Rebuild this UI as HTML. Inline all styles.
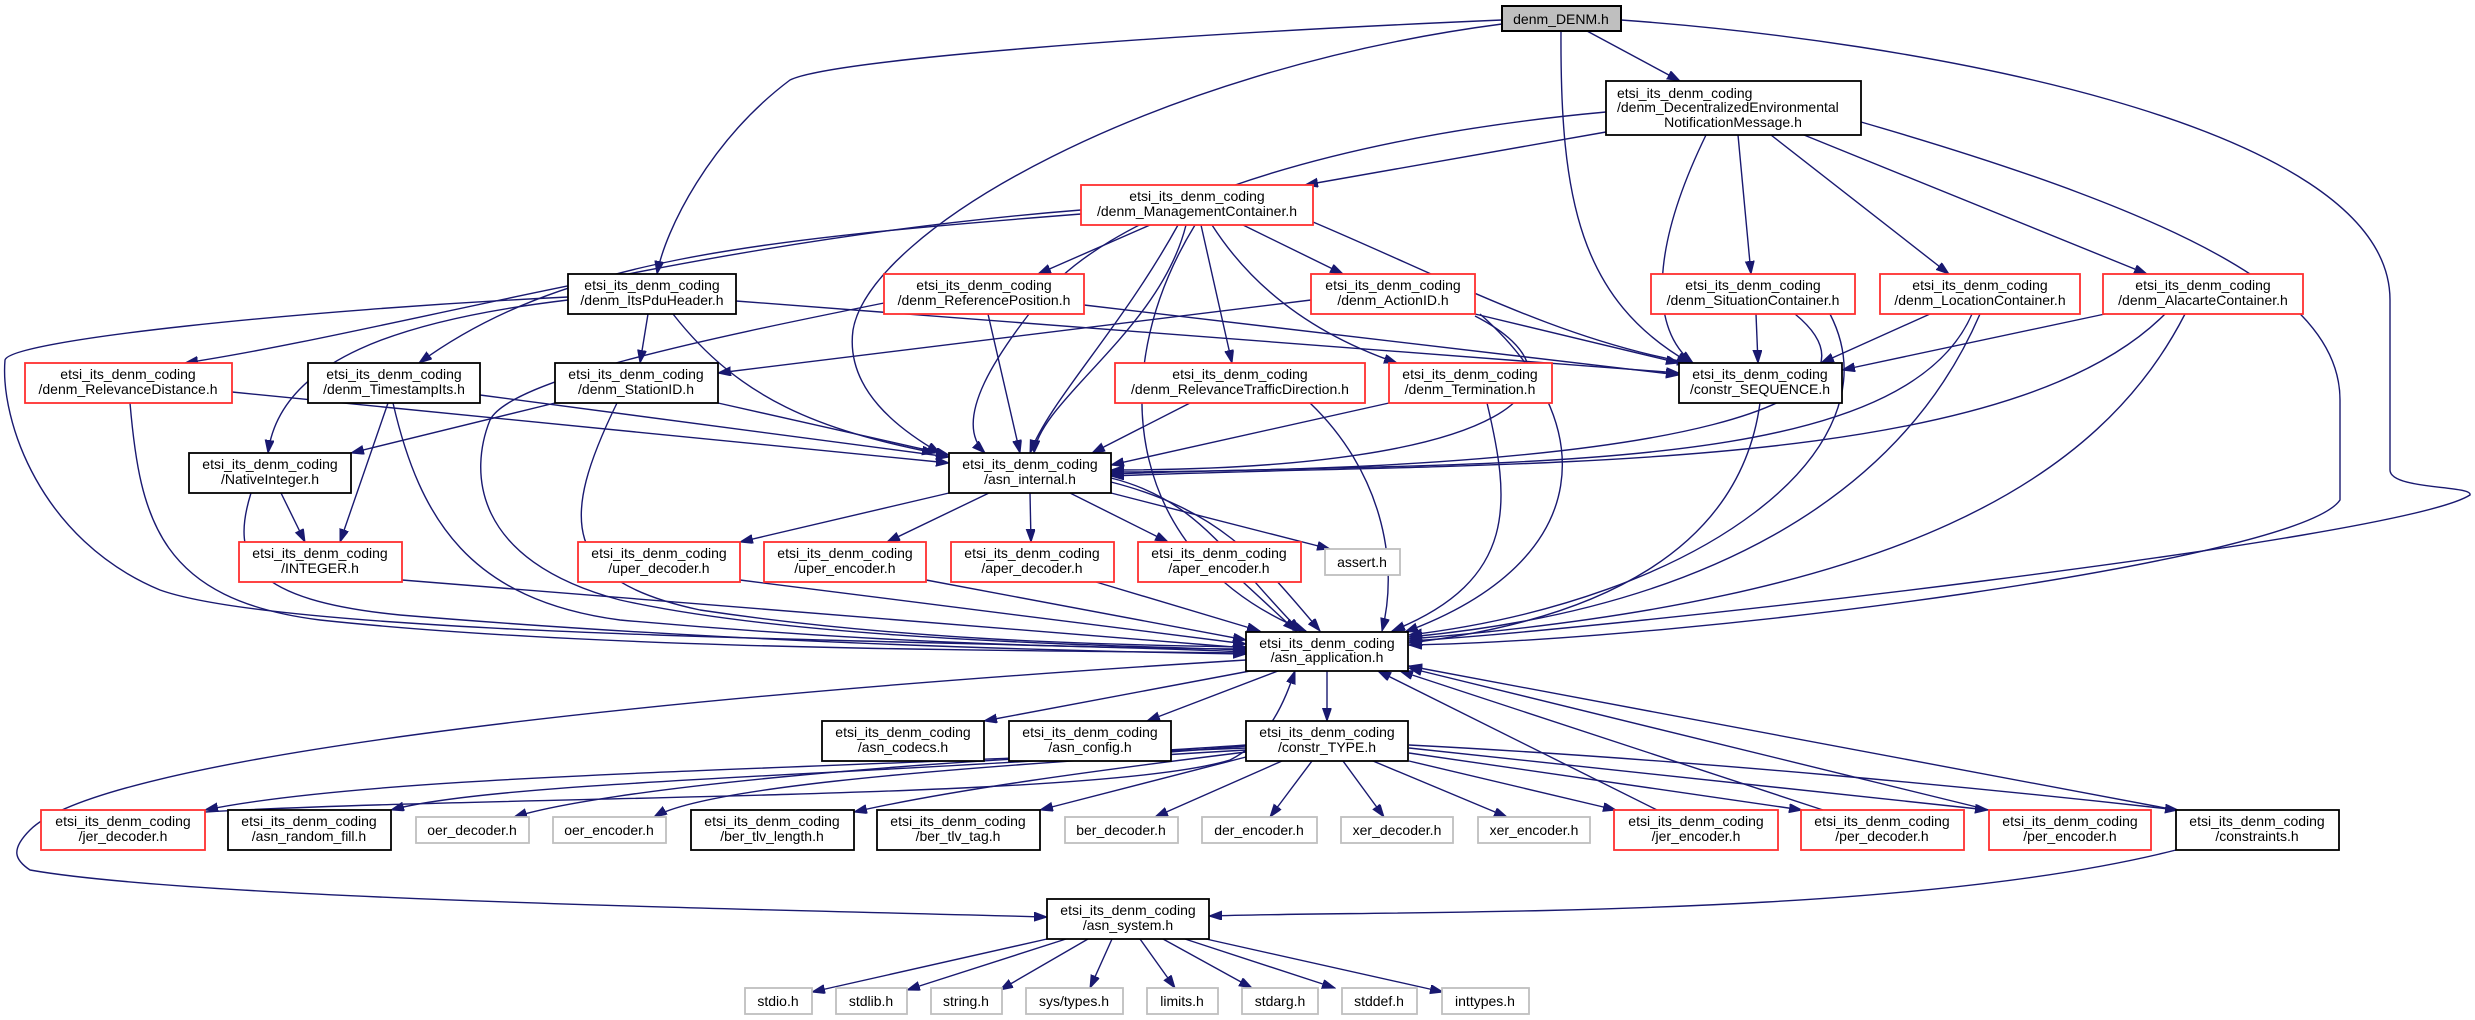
<!DOCTYPE html>
<html><head><meta charset="utf-8"><style>
html,body{margin:0;padding:0;background:#fff}
svg{display:block}
text{font-family:"Liberation Sans","DejaVu Sans",sans-serif;font-size:14px;fill:#000;text-anchor:middle}
.r{fill:#fff;stroke:#ff3030;stroke-width:1.8}
.k{fill:#fff;stroke:#000;stroke-width:1.8}
.g{fill:#fff;stroke:#bfbfbf;stroke-width:1.8}
.e path{fill:none;stroke:#191970;stroke-width:1.4;marker-end:url(#a)}
</style></head><body>
<svg width="2475" height="1020" viewBox="0 0 2475 1020" xmlns="http://www.w3.org/2000/svg">
<defs><marker id="a" markerUnits="userSpaceOnUse" markerWidth="14" markerHeight="10" refX="13" refY="4.5" orient="auto"><path d="M0,0 L13,4.5 L0,9 Z" fill="#191970" stroke="#191970"/></marker></defs>
<g class="e">
<path d="M1587,31 L1680,81"/>
<path d="M1502,20 C1150,35 830,60 790,80 C710,140 665,230 657,274"/>
<path d="M1502,24 C1150,70 870,230 853,330 C845,390 900,430 940,453"/>
<path d="M1561,31 C1560,200 1580,300 1690,363"/>
<path d="M1621,20 C1900,40 2390,120 2390,300 L2390,470 C2390,490 2473,485 2470,495 C2400,540 1600,630 1409,641"/>
<path d="M1606,132 L1305,185"/>
<path d="M1606,112 C1300,140 1100,220 1040,300 C1000,350 950,420 985,453"/>
<path d="M1706,135 C1650,250 1650,330 1693,363"/>
<path d="M1738,135 L1751,274"/>
<path d="M1771,135 L1949,274"/>
<path d="M1804,135 L2147,274"/>
<path d="M1861,122 C2200,220 2340,300 2340,400 L2340,500 C2300,560 1700,640 1409,645"/>
<path d="M1150,225 L1038,274"/>
<path d="M1081,210 C700,240 400,330 185,363"/>
<path d="M1081,214 C750,240 560,260 419,363"/>
<path d="M1178,225 C1120,330 1050,400 1030,453"/>
<path d="M1186,225 C1160,330 1040,400 1034,453"/>
<path d="M1313,222 C1450,280 1560,340 1690,363"/>
<path d="M1243,225 L1343,274"/>
<path d="M1201,225 L1232,363"/>
<path d="M1212,225 C1260,300 1330,340 1397,363"/>
<path d="M1195,225 C1100,380 1130,560 1306,631"/>
<path d="M1311,300 L718,373"/>
<path d="M648,314 L640,363"/>
<path d="M673,314 C740,400 820,430 935,453"/>
<path d="M568,300 C400,320 280,360 268,453"/>
<path d="M568,297 C300,310 10,340 5,360 C0,420 40,540 160,590 C300,640 1000,640 1246,652"/>
<path d="M736,301 L1679,373"/>
<path d="M1084,305 L1679,375"/>
<path d="M988,314 L1020,453"/>
<path d="M884,303 C700,340 510,380 490,420 C470,470 470,560 620,600 C800,640 1100,645 1246,650"/>
<path d="M232,392 L949,463"/>
<path d="M130,403 C140,520 160,600 320,620 C600,650 1000,650 1246,653"/>
<path d="M480,395 L949,457"/>
<path d="M388,403 L340,542"/>
<path d="M393,403 C420,520 470,600 620,620 C900,645 1100,648 1246,649"/>
<path d="M555,403 L351,453"/>
<path d="M718,403 L949,455"/>
<path d="M617,403 C560,520 560,580 700,610 C900,640 1100,645 1246,647"/>
<path d="M281,493 L305,542"/>
<path d="M251,493 C230,560 250,600 400,615 C700,640 1000,650 1246,654"/>
<path d="M402,580 L1246,648"/>
<path d="M1190,403 L1092,453"/>
<path d="M1310,403 C1380,470 1400,560 1382,631"/>
<path d="M1389,403 L1111,465"/>
<path d="M1487,403 C1510,500 1520,580 1392,631"/>
<path d="M1475,314 L1679,363"/>
<path d="M1475,316 C1600,380 1520,470 1111,470"/>
<path d="M1480,314 C1600,420 1600,560 1405,632"/>
<path d="M1756,314 L1758,363"/>
<path d="M1795,314 C1900,400 1700,470 1111,472"/>
<path d="M1830,314 C1900,450 1700,600 1409,635"/>
<path d="M1930,314 L1821,363"/>
<path d="M1972,314 C1900,480 1500,460 1111,474"/>
<path d="M1980,314 C1900,500 1700,610 1409,637"/>
<path d="M2105,314 L1842,370"/>
<path d="M2165,314 C2000,480 1500,460 1111,476"/>
<path d="M2185,314 C2100,480 1900,600 1409,639"/>
<path d="M1760,403 C1740,550 1600,620 1409,643"/>
<path d="M949,493 L740,542"/>
<path d="M989,493 L887,542"/>
<path d="M1030,493 L1031,542"/>
<path d="M1070,493 L1168,542"/>
<path d="M1111,493 L1330,549"/>
<path d="M1111,478 C1200,500 1230,560 1300,631"/>
<path d="M1111,482 C1220,510 1260,560 1320,631"/>
<path d="M1243,582 L1296,631"/>
<path d="M1096,582 L1260,631"/>
<path d="M926,580 L1246,640"/>
<path d="M740,580 L1246,644"/>
<path d="M1250,671 L984,721"/>
<path d="M1278,671 L1147,721"/>
<path d="M1327,671 L1327,721"/>
<path d="M1246,660 C600,700 100,760 30,830 C10,850 15,860 30,870 C200,900 800,910 1047,917"/>
<path d="M1246,745 C900,770 400,770 205,810"/>
<path d="M1246,746 C900,775 500,780 391,810"/>
<path d="M1246,748 C900,760 600,790 514,817"/>
<path d="M1246,750 C900,770 700,790 654,817"/>
<path d="M1246,752 C1100,770 950,790 854,812"/>
<path d="M1246,757 L1040,810"/>
<path d="M1282,761 L1155,817"/>
<path d="M1312,761 L1270,817"/>
<path d="M1343,761 L1384,817"/>
<path d="M1373,761 L1507,817"/>
<path d="M1409,761 L1616,810"/>
<path d="M1409,753 L1802,810"/>
<path d="M1409,748 L1988,810"/>
<path d="M1409,745 C1700,760 2000,790 2178,810"/>
<path d="M205,812 C500,795 1100,800 1230,760 C1270,740 1285,700 1295,671"/>
<path d="M1657,810 L1378,671"/>
<path d="M1823,810 L1400,671"/>
<path d="M1989,810 L1409,668"/>
<path d="M2176,810 L1409,666"/>
<path d="M2176,850 C1900,920 1400,910 1209,916"/>
<path d="M1047,939 L812,992"/>
<path d="M1066,939 L907,990"/>
<path d="M1088,939 L1000,990"/>
<path d="M1112,939 L1090,988"/>
<path d="M1140,939 L1175,988"/>
<path d="M1163,939 L1252,988"/>
<path d="M1185,939 L1335,988"/>
<path d="M1206,939 L1443,992"/>
</g>
<g>
<rect x="1502" y="6" width="119" height="25" fill="#bfbfbf" stroke="#000" stroke-width="2"/><text x="1561" y="24">denm_DENM.h</text>
<rect class="k" x="1606" y="81" width="255" height="54"/><text x="1617" y="98" style="text-anchor:start">etsi_its_denm_coding</text><text x="1617" y="112" style="text-anchor:start">/denm_DecentralizedEnvironmental</text><text x="1733" y="127">NotificationMessage.h</text>

<rect class="r" x="1081" y="185" width="232" height="40"/><text x="1197" y="201">etsi_its_denm_coding</text><text x="1197" y="216">/denm_ManagementContainer.h</text>

<rect class="k" x="568" y="274" width="168" height="40"/><text x="652" y="290">etsi_its_denm_coding</text><text x="652" y="305">/denm_ItsPduHeader.h</text>
<rect class="r" x="884" y="274" width="200" height="40"/><text x="984" y="290">etsi_its_denm_coding</text><text x="984" y="305">/denm_ReferencePosition.h</text>
<rect class="r" x="1311" y="274" width="164" height="40"/><text x="1393" y="290">etsi_its_denm_coding</text><text x="1393" y="305">/denm_ActionID.h</text>
<rect class="r" x="1651" y="274" width="204" height="40"/><text x="1753" y="290">etsi_its_denm_coding</text><text x="1753" y="305">/denm_SituationContainer.h</text>
<rect class="r" x="1880" y="274" width="200" height="40"/><text x="1980" y="290">etsi_its_denm_coding</text><text x="1980" y="305">/denm_LocationContainer.h</text>
<rect class="r" x="2103" y="274" width="200" height="40"/><text x="2203" y="290">etsi_its_denm_coding</text><text x="2203" y="305">/denm_AlacarteContainer.h</text>

<rect class="r" x="25" y="363" width="207" height="40"/><text x="128" y="379">etsi_its_denm_coding</text><text x="128" y="394">/denm_RelevanceDistance.h</text>
<rect class="k" x="308" y="363" width="172" height="40"/><text x="394" y="379">etsi_its_denm_coding</text><text x="394" y="394">/denm_TimestampIts.h</text>
<rect class="k" x="555" y="363" width="163" height="40"/><text x="636" y="379">etsi_its_denm_coding</text><text x="636" y="394">/denm_StationID.h</text>
<rect class="r" x="1115" y="363" width="250" height="40"/><text x="1240" y="379">etsi_its_denm_coding</text><text x="1240" y="394">/denm_RelevanceTrafficDirection.h</text>
<rect class="r" x="1389" y="363" width="163" height="40"/><text x="1470" y="379">etsi_its_denm_coding</text><text x="1470" y="394">/denm_Termination.h</text>
<rect class="k" x="1679" y="363" width="163" height="40"/><text x="1760" y="379">etsi_its_denm_coding</text><text x="1760" y="394">/constr_SEQUENCE.h</text>

<rect class="k" x="189" y="453" width="162" height="40"/><text x="270" y="469">etsi_its_denm_coding</text><text x="270" y="484">/NativeInteger.h</text>
<rect class="k" x="949" y="453" width="162" height="40"/><text x="1030" y="469">etsi_its_denm_coding</text><text x="1030" y="484">/asn_internal.h</text>

<rect class="r" x="239" y="542" width="163" height="40"/><text x="320" y="558">etsi_its_denm_coding</text><text x="320" y="573">/INTEGER.h</text>
<rect class="r" x="578" y="542" width="162" height="40"/><text x="659" y="558">etsi_its_denm_coding</text><text x="659" y="573">/uper_decoder.h</text>
<rect class="r" x="764" y="542" width="162" height="40"/><text x="845" y="558">etsi_its_denm_coding</text><text x="845" y="573">/uper_encoder.h</text>
<rect class="r" x="951" y="542" width="163" height="40"/><text x="1032" y="558">etsi_its_denm_coding</text><text x="1032" y="573">/aper_decoder.h</text>
<rect class="r" x="1138" y="542" width="163" height="40"/><text x="1219" y="558">etsi_its_denm_coding</text><text x="1219" y="573">/aper_encoder.h</text>
<rect class="g" x="1325" y="549" width="75" height="26"/><text x="1362" y="567">assert.h</text>

<rect class="k" x="1246" y="632" width="162" height="39"/><text x="1327" y="648">etsi_its_denm_coding</text><text x="1327" y="662">/asn_application.h</text>
<rect class="k" x="822" y="721" width="162" height="40"/><text x="903" y="737">etsi_its_denm_coding</text><text x="903" y="752">/asn_codecs.h</text>
<rect class="k" x="1009" y="721" width="162" height="40"/><text x="1090" y="737">etsi_its_denm_coding</text><text x="1090" y="752">/asn_config.h</text>
<rect class="k" x="1246" y="721" width="162" height="40"/><text x="1327" y="737">etsi_its_denm_coding</text><text x="1327" y="752">/constr_TYPE.h</text>

<rect class="r" x="41" y="810" width="164" height="40"/><text x="123" y="826">etsi_its_denm_coding</text><text x="123" y="841">/jer_decoder.h</text>
<rect class="k" x="228" y="810" width="163" height="40"/><text x="309" y="826">etsi_its_denm_coding</text><text x="309" y="841">/asn_random_fill.h</text>
<rect class="g" x="416" y="817" width="113" height="26"/><text x="472" y="835">oer_decoder.h</text>
<rect class="g" x="553" y="817" width="113" height="26"/><text x="609" y="835">oer_encoder.h</text>
<rect class="k" x="691" y="810" width="163" height="40"/><text x="772" y="826">etsi_its_denm_coding</text><text x="772" y="841">/ber_tlv_length.h</text>
<rect class="k" x="877" y="810" width="163" height="40"/><text x="958" y="826">etsi_its_denm_coding</text><text x="958" y="841">/ber_tlv_tag.h</text>
<rect class="g" x="1065" y="817" width="113" height="26"/><text x="1121" y="835">ber_decoder.h</text>
<rect class="g" x="1202" y="817" width="115" height="26"/><text x="1259" y="835">der_encoder.h</text>
<rect class="g" x="1341" y="817" width="112" height="26"/><text x="1397" y="835">xer_decoder.h</text>
<rect class="g" x="1478" y="817" width="112" height="26"/><text x="1534" y="835">xer_encoder.h</text>
<rect class="r" x="1614" y="810" width="164" height="40"/><text x="1696" y="826">etsi_its_denm_coding</text><text x="1696" y="841">/jer_encoder.h</text>
<rect class="r" x="1801" y="810" width="163" height="40"/><text x="1882" y="826">etsi_its_denm_coding</text><text x="1882" y="841">/per_decoder.h</text>
<rect class="r" x="1989" y="810" width="162" height="40"/><text x="2070" y="826">etsi_its_denm_coding</text><text x="2070" y="841">/per_encoder.h</text>
<rect class="k" x="2176" y="810" width="163" height="40"/><text x="2257" y="826">etsi_its_denm_coding</text><text x="2257" y="841">/constraints.h</text>

<rect class="k" x="1047" y="899" width="162" height="40"/><text x="1128" y="915">etsi_its_denm_coding</text><text x="1128" y="930">/asn_system.h</text>

<rect class="g" x="745" y="988" width="67" height="26"/><text x="778" y="1006">stdio.h</text>
<rect class="g" x="836" y="988" width="71" height="26"/><text x="871" y="1006">stdlib.h</text>
<rect class="g" x="931" y="988" width="71" height="26"/><text x="966" y="1006">string.h</text>
<rect class="g" x="1026" y="988" width="97" height="26"/><text x="1074" y="1006">sys/types.h</text>
<rect class="g" x="1147" y="988" width="71" height="26"/><text x="1182" y="1006">limits.h</text>
<rect class="g" x="1242" y="988" width="76" height="26"/><text x="1280" y="1006">stdarg.h</text>
<rect class="g" x="1342" y="988" width="75" height="26"/><text x="1379" y="1006">stddef.h</text>
<rect class="g" x="1442" y="988" width="87" height="26"/><text x="1485" y="1006">inttypes.h</text>
</g>
</svg>
</body></html>
